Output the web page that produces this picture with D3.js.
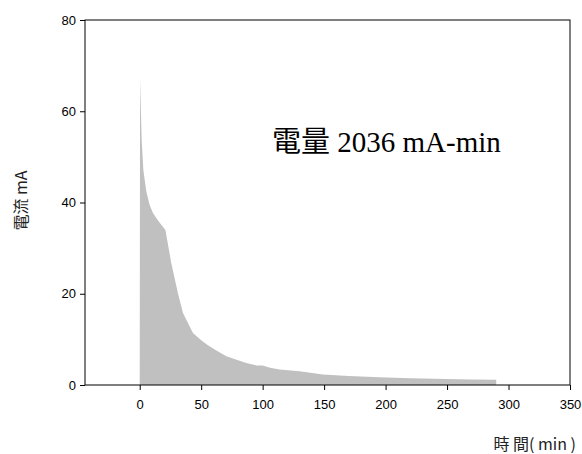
<!DOCTYPE html>
<html>
<head>
<meta charset="utf-8">
<script src="https://cdn.jsdelivr.net/npm/d3@7"></script>
<style>
  body { margin: 0; background: #fff; }
  text { font-family: "Liberation Sans", Arial, sans-serif; }
</style>
</head>
<body>
<div id="chart"></div>
<script>
const width = 582;
const height = 454;
const margin = { top: 20, right: 12, bottom: 69, left: 85 };

// time (min) vs current (mA)
const timeMin = [0, 0.3, 1.6, 3, 5.4, 8, 10.8, 15, 20.9, 25.7, 31.1, 35.2, 43.3, 50, 55.5, 62, 70.5, 80, 86.7, 95, 100, 106, 113.8, 130, 149, 170, 195, 220, 249, 270, 290];
const currentMA = [0, 67.2, 53.7, 47, 42.4, 39.5, 37.7, 36, 34.0, 26.7, 20.1, 15.8, 11.4, 9.8, 8.7, 7.6, 6.3, 5.4, 4.8, 4.3, 4.3, 3.8, 3.4, 3.0, 2.3, 2.0, 1.7, 1.5, 1.3, 1.2, 1.15];

const xTicks = [0, 50, 100, 150, 200, 250, 300, 350];
const yTicks = [0, 20, 40, 60, 80];

const svg = d3.select('#chart').append('svg').attr('width', width).attr('height', height);

const x = d3.scaleLinear().domain([-44.5, 350]).range([margin.left, width - margin.right]);
const y = d3.scaleLinear().domain([0, 80]).range([height - margin.bottom, margin.top]);

const data = timeMin.map((t, i) => ({ t, v: currentMA[i] }));

const area = d3
  .area()
  .x((d) => x(d.t))
  .y0(y(0))
  .y1((d) => y(d.v));

svg
  .append('path')
  .datum(data.concat([{ t: 290, v: 0 }]))
  .attr('fill', '#c0c0c0')
  .attr('d', area);

// frame
svg
  .append('rect')
  .attr('x', x(-44.5))
  .attr('y', y(80))
  .attr('width', x(350) - x(-44.5))
  .attr('height', y(0) - y(80))
  .attr('fill', 'none')
  .attr('stroke', '#000')
  .attr('stroke-width', 1);

const xAxis = d3.axisBottom(x).tickValues(xTicks).tickSize(5).tickSizeOuter(0);
const yAxis = d3.axisLeft(y).tickValues(yTicks).tickSize(5).tickSizeOuter(0);

const gx = svg.append('g').attr('transform', `translate(0, ${y(0)})`).call(xAxis);
gx.select('.domain').remove();
gx.selectAll('text').attr('dy', '1.25em').style('font-size', '13px').attr('fill', '#000');

const gy = svg.append('g').attr('transform', `translate(${x(-44.5)}, 0)`).call(yAxis);
gy.select('.domain').remove();
gy.selectAll('text').attr('x', -9).style('font-size', '13px').attr('fill', '#000');

svg
  .append('text')
  .attr('transform', `translate(27, ${(y(0) + y(80)) / 2 - 2}) rotate(-90)`)
  .attr('text-anchor', 'middle')
  .attr('fill', '#222')
  .style('font-family', '"Noto Sans CJK TC", "Liberation Sans", sans-serif')
  .style('font-size', '16px')
  .text('電流 mA');

svg
  .append('text')
  .attr('x', 576)
  .attr('y', 450)
  .attr('text-anchor', 'end')
  .attr('fill', '#222')
  .style('font-family', '"Noto Sans CJK TC", "Liberation Sans", sans-serif')
  .style('font-size', '16px')
  .text('時 間( min )');

svg
  .append('text')
  .attr('x', 272)
  .attr('y', 152)
  .style('font-family', '"Liberation Serif", "Noto Sans CJK TC", serif')
  .style('font-size', '29px')
  .text('電量 2036 mA-min');
</script>
</body>
</html>
